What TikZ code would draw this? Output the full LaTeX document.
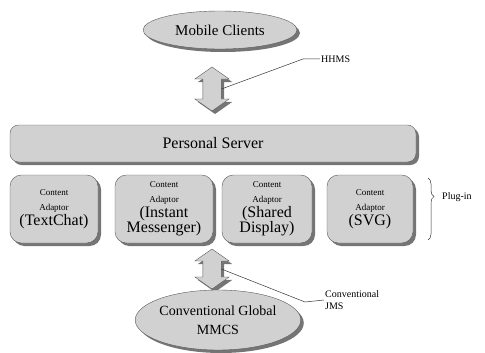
\documentclass[tikz,border=0pt]{standalone}
\usepackage{fontspec}
\setmainfont{Liberation Serif}
\usetikzlibrary{positioning}
\usetikzlibrary{shapes.geometric}
\usetikzlibrary{shapes.arrows}
\usetikzlibrary{shadows}
\usetikzlibrary{decorations.pathreplacing}
\tikzset {
  % grey parts with a shadow down to the right
  shaded part/.style = {
    draw = black!65,
    fill = black!18,
    drop shadow={shadow xshift=3pt,shadow yshift=-3pt,fill=black!60,opacity=0.9}
  },
  site/.style = {
    shaded part,
    ellipse,
    inner sep = 0pt
  },
  server/.style = {
    shaded part,
    rectangle,
    rounded corners = 3mm
  },
  adaptor/.style = {
    shaded part,
    rectangle,
    rounded corners = 4mm,
    minimum height = 68pt,
    align = center,
    inner sep = 1pt,
    font = \fontsize{16}{15}\selectfont
  },
  link arrow/.style = {
    shaded part,
    double arrow,
    shape border rotate = 90,
    double arrow tip angle = 110,
    double arrow head extend = 8pt,
    inner sep = 9pt
  },
  % small labels and their lines
  leader/.style = {
    draw = black!80,
    line width = 0.5pt
  },
  note/.style = {
    align = left,
    inner sep = 1pt,
    font = \fontsize{10}{12}\selectfont
  }
}
\newcommand{\smalltag}{\fontsize{9}{9}\selectfont}
\newcommand{\bigtag}{\fontsize{16}{16}\selectfont}

\begin{document}
\begin{tikzpicture}[x = 1pt, y = 1pt]
    \useasboundingbox (0,0) rectangle (485,-353);

    \node[site, minimum width = 154pt, minimum height = 38pt,
      font = \fontsize{15}{17}\selectfont] (mobile) at (220,-30) {Mobile Clients};
    \node[link arrow, minimum height = 44pt] (up-link) at (212,-89) {};

    \node[server, minimum width = 406pt, minimum height = 37pt,
      font = \fontsize{16}{18}\selectfont] (server) at (213,-143.5) {Personal Server};

    \node[adaptor, minimum width = 88pt] (textchat) at (54,-209)
      {\smalltag Content\\\smalltag Adaptor\\\bigtag (TextChat)};
    \node[adaptor, minimum width = 98pt] (messenger) at (164,-209)
      {\smalltag Content\\\smalltag Adaptor\\\bigtag (Instant\\\bigtag Messenger)};
    \node[adaptor, minimum width = 90pt] (display) at (267,-209)
      {\smalltag Content\\\smalltag Adaptor\\\bigtag (Shared\\\bigtag Display)};
    \node[adaptor, minimum width = 86pt] (svg) at (370,-209)
      {\smalltag Content\\\smalltag Adaptor\\\bigtag (SVG)};

    \coordinate (plug-top) at (428,-178);
    \coordinate (plug-bottom) at (428,-240);
    \node[note, anchor = west] (plugin) at (441,-197) {Plug-in};

    \node[link arrow, minimum height = 40pt] (down-link) at (212,-269) {};
    \node[site, minimum width = 164pt, minimum height = 60pt,
      font = \fontsize{14}{19}\selectfont, align = center] (mmcs) at (218,-320)
      {Conventional Global\\MMCS};

    \coordinate (hhms-bend) at (303,-59);
    \node[note, anchor = west] (hhms) at (320,-59) {HHMS};
    \coordinate (jms-bend) at (305,-302);
    \node[note, anchor = west] (jms) at (324,-300) {Conventional\\JMS};

    \draw[leader] (up-link.east)
    -- (hhms-bend)
    -- (hhms.west);

    \draw[leader] (down-link.east)
    -- (jms-bend)
    -- (jms.west);

    \draw[leader, decorate,
      decoration = {brace, amplitude = 6pt, aspect = 0.3}]
      (plug-top) -- (plug-bottom);
  \end{tikzpicture}
\end{document}
